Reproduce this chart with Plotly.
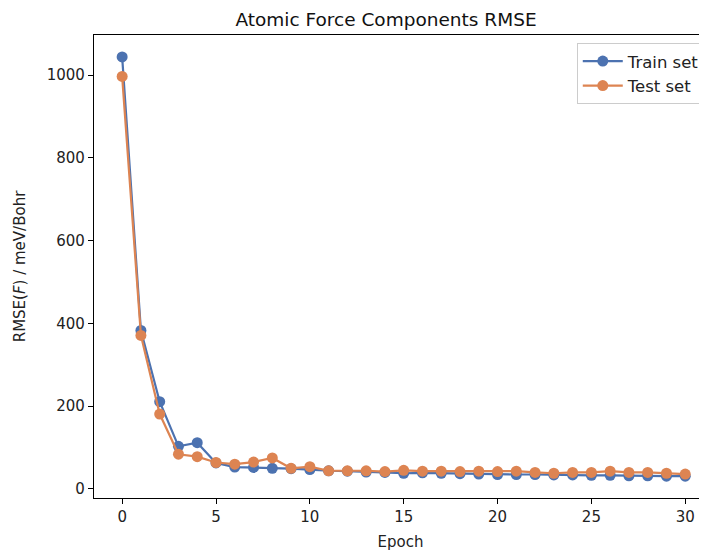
import plotly.graph_objects as go

epochs = list(range(31))
train_rmse = [1044, 383, 211, 103, 112, 63, 53, 52, 50, 49, 47, 44, 43, 41, 40, 38,
              39, 38, 37, 36, 35, 35, 35, 34, 34, 33, 33, 32, 32, 31, 31]
test_rmse = [997, 371, 181, 84, 78, 64, 60, 65, 75, 50, 54, 44, 44, 44, 42, 45,
             43, 43, 42, 43, 42, 43, 40, 38, 40, 40, 43, 40, 40, 38, 36]
x_ticks = [0, 5, 10, 15, 20, 25, 30]
y_ticks = [0, 200, 400, 600, 800, 1000]

BLUE = "#4c72b0"
ORANGE = "#dd8452"
FONT = "DejaVu Sans"

# page body has an 8px margin; size the figure so it fits the 707x554 window
W, H = 699, 546

fig = go.Figure()
fig.add_trace(go.Scatter(x=epochs, y=train_rmse, mode="lines+markers", name="Train set",
                         line=dict(color=BLUE, width=2.2),
                         marker=dict(color=BLUE, size=11)))
fig.add_trace(go.Scatter(x=epochs, y=test_rmse, mode="lines+markers", name="Test set",
                         line=dict(color=ORANGE, width=2.2),
                         marker=dict(color=ORANGE, size=11)))

fig.update_layout(
    width=W, height=H,
    margin=dict(l=86, r=0, t=27, b=56),
    paper_bgcolor="white", plot_bgcolor="white",
    font=dict(family=FONT, size=15, color="#222"),
    title=dict(text="Atomic Force Components RMSE", x=(386 - 8) / W, xref="container",
               xanchor="center", y=1 - 12 / H, yref="container", yanchor="middle",
               font=dict(size=18.5, color="#111")),
    legend=dict(x=0.998, y=0.983, xanchor="right", yanchor="top",
                bgcolor="rgba(255,255,255,0.8)", bordercolor="#cccccc", borderwidth=1,
                font=dict(size=16.5, color="#222"), itemwidth=40),
    showlegend=True,
)
fig.update_xaxes(range=[-1.5, 31.16], tickvals=x_ticks, showgrid=False, zeroline=False,
                 showline=True, linecolor="black", linewidth=1.2, mirror=True,
                 ticks="outside", ticklen=5, tickwidth=1.2, tickcolor="black",
                 tickfont=dict(size=15),
                 title=dict(text="Epoch", font=dict(size=15), standoff=11))
fig.update_yaxes(range=[-21.8, 1097], tickvals=y_ticks, showgrid=False, zeroline=False,
                 showline=True, linecolor="black", linewidth=1.2, mirror=False,
                 ticks="outside", ticklen=5, tickwidth=1.2, tickcolor="black",
                 tickfont=dict(size=15),
                 title=dict(text="RMSE(<i>F</i>) / meV/Bohr", font=dict(size=15), standoff=17))

fig.write_html("out.html")
